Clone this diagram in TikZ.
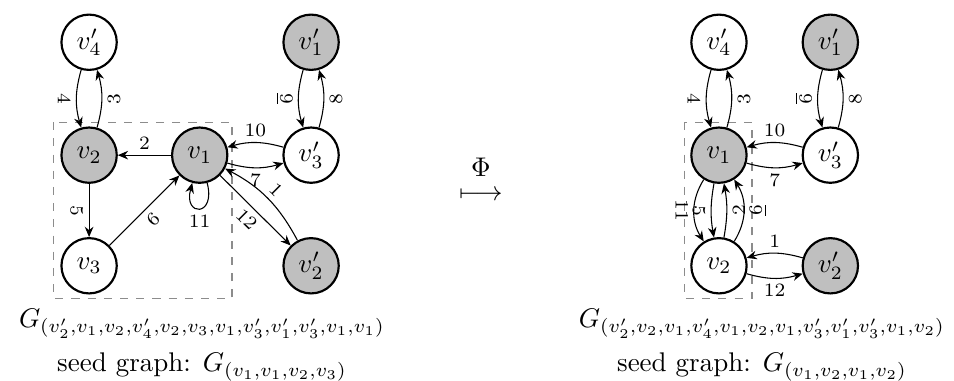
\documentclass[tikz,border=0pt]{standalone}
\usepackage{amsmath}
\usetikzlibrary{arrows.meta}
\tikzset{
  vtx/.style={circle,draw,thick,fill=white,minimum size=0.72cm,inner sep=0pt},
  vtxg/.style={vtx,fill=black!25},
  seedbox/.style={draw=black!45,dashed},
  lbl/.style={font=\scriptsize,inner sep=2pt},
  slbl/.style={lbl,sloped},
  walk/.style={->,>={Stealth[length=3.8pt,width=3.2pt]}},
}
\begin{document}
\begin{tikzpicture}[auto=right]
\useasboundingbox (0,0) rectangle (12.42,-4.96);
% the walk before Phi
\draw[seedbox] (0.70,-1.59) rectangle (3.02,-3.89);   % seed part
\node[vtx]  (l4p) at (1.16,-0.55) {$v'_4$};
\node[vtxg] (l1p) at (4.05,-0.55) {$v'_1$};
\node[vtxg] (l2)  at (1.16,-2.02) {$v_2$};
\node[vtxg] (l1)  at (2.60,-2.02) {$v_1$};
\node[vtx]  (l3p) at (4.05,-2.02) {$v'_3$};
\node[vtx]  (l3)  at (1.16,-3.46) {$v_3$};
\node[vtxg] (l2p) at (4.05,-3.46) {$v'_2$};
\path[walk] (l2p) edge[bend right=17] node[slbl,swap] {1} (l1)
            (l1)  edge node[lbl] {2} (l2)
            (l2)  edge[bend right=16] node[slbl] {3} (l4p)
            (l4p) edge[bend right=16] node[slbl] {4} (l2)
            (l2)  edge node[slbl] {5} (l3)
            (l3)  edge node[slbl] {6} (l1)
            (l1)  edge[bend right=16] node[lbl] {7} (l3p)
            (l3p) edge[bend right=16] node[slbl] {8} (l1p)
            (l1p) edge[bend right=16] node[slbl] {$\underline{9}$} (l3p)
            (l3p) edge[bend right=16] node[lbl] {10} (l1)
            (l1)  edge[loop,out=-75,in=-105,looseness=1,min distance=0.46cm] node[lbl,below] {11} (l1)
            (l1)  edge node[slbl] {12} (l2p);
\node[anchor=base] (capL) at (2.63,-4.27) {$G_{(v'_2,v_1,v_2,v'_4,v_2,v_3,v_1,v'_3,v'_1,v'_3,v_1,v_1)}$};
\node[anchor=base] (seedL) at (2.63,-4.84) {seed graph: $G_{(v_1,v_1,v_2,v_3)}$};
% the map
\node[align=center,inner sep=0pt] (phi) at (6.26,-2.33) {$\Phi$\\[-3pt]$\longmapsto$};
% the walk after Phi
\draw[seedbox] (8.91,-1.59) rectangle (9.79,-3.89);   % seed part
\node[vtx]  (r4p) at (9.36,-0.55) {$v'_4$};
\node[vtxg] (r1p) at (10.81,-0.55) {$v'_1$};
\node[vtxg] (r1)  at (9.36,-2.02) {$v_1$};
\node[vtx]  (r3p) at (10.81,-2.02) {$v'_3$};
\node[vtx]  (r2)  at (9.36,-3.46) {$v_2$};
\node[vtxg] (r2p) at (10.81,-3.46) {$v'_2$};
\path[walk] (r2p) edge[bend right=16] node[lbl] {1} (r2)
            (r2)  edge[bend right=10] node[slbl] {2} (r1)
            (r1)  edge[bend right=16] node[slbl] {3} (r4p)
            (r4p) edge[bend right=16] node[slbl] {4} (r1)
            (r1)  edge[bend right=10] node[slbl] {5} (r2)
            (r2)  edge[bend right=32] node[slbl] {$\underline{6}$} (r1)
            (r1)  edge[bend right=16] node[lbl] {7} (r3p)
            (r3p) edge[bend right=16] node[slbl] {8} (r1p)
            (r1p) edge[bend right=16] node[slbl] {$\underline{9}$} (r3p)
            (r3p) edge[bend right=16] node[lbl] {10} (r1)
            (r1)  edge[bend right=32] node[slbl] {11} (r2)
            (r2)  edge[bend right=16] node[lbl] {12} (r2p);
\node[anchor=base] (capR) at (9.92,-4.27) {$G_{(v'_2,v_2,v_1,v'_4,v_1,v_2,v_1,v'_3,v'_1,v'_3,v_1,v_2)}$};
\node[anchor=base] (seedR) at (9.92,-4.84) {seed graph: $G_{(v_1,v_2,v_1,v_2)}$};
\end{tikzpicture}
\end{document}
